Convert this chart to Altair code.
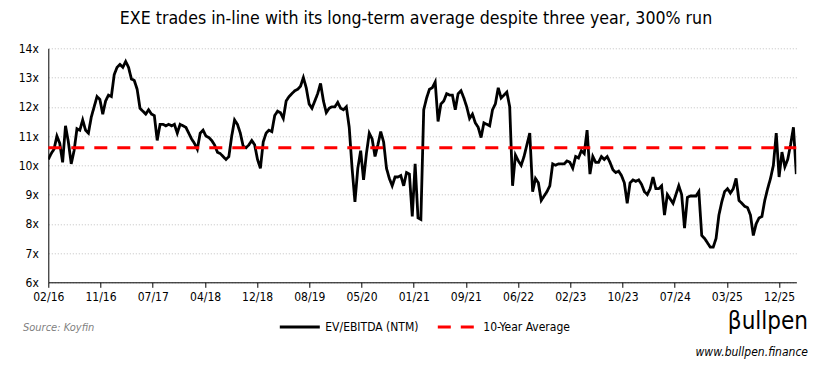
import altair as alt
import pandas as pd

# EV/EBITDA (NTM), one value every 14 days from 2016-02-25
values = [
    10.2, 10.4, 10.55, 11.0, 10.75, 10.1, 11.35, 10.8, 10.05, 10.5,
    11.25, 11.2, 11.55, 11.2, 11.1, 11.65, 12.0, 12.35, 12.25, 11.75,
    12.2, 12.4, 12.35, 13.1, 13.35, 13.45, 13.35, 13.55, 13.35, 12.95,
    12.9, 12.6, 11.95, 11.85, 11.75, 11.9, 11.75, 11.7, 10.85, 11.4,
    11.4, 11.35, 11.4, 11.35, 11.4, 11.1, 11.4, 11.35, 11.3, 11.1,
    10.9, 10.75, 10.55, 11.1, 11.2, 11.0, 10.95, 10.85, 10.7, 10.45,
    10.4, 10.3, 10.2, 10.3, 11.0, 11.55, 11.4, 11.1, 10.65, 10.6,
    10.7, 10.85, 10.7, 10.2, 9.9, 10.8, 11.1, 11.2, 11.15, 11.7,
    11.85, 11.8, 11.6, 12.2, 12.35, 12.45, 12.55, 12.6, 12.7, 13.0,
    12.65, 12.1, 11.95, 12.2, 12.45, 12.8, 12.2, 11.8, 11.95, 12.0,
    12.0, 12.15, 11.95, 11.9, 12.0, 11.3, 9.9, 8.75, 9.9, 10.5,
    9.5, 10.4, 11.1, 10.9, 10.3, 10.7, 11.15, 10.8, 9.9, 9.55,
    9.3, 9.6, 9.6, 9.65, 9.3, 9.75, 9.7, 8.25, 10.05, 8.2,
    8.15, 11.9, 12.3, 12.6, 12.65, 12.85, 11.5, 12.1, 12.2, 12.45,
    12.4, 12.4, 11.9, 12.45, 12.55, 12.3, 12.0, 11.6, 11.75, 11.45,
    11.3, 10.95, 11.45, 11.4, 11.35, 11.9, 12.1, 12.65, 12.3, 12.4,
    12.5, 12.0, 9.3, 10.35, 10.15, 10.0, 10.3, 10.7, 11.1, 9.1,
    9.55, 9.4, 8.8, 8.95, 9.1, 9.3, 10.05, 10.0, 10.05, 10.05,
    10.05, 10.15, 10.1, 9.9, 10.3, 10.25, 10.5, 10.4, 11.2, 9.7,
    10.3, 10.1, 10.1, 10.3, 10.2, 10.3, 10.1, 9.85, 9.75, 9.8,
    9.65, 9.4, 8.7, 9.4, 9.5, 9.45, 9.5, 9.35, 9.1, 9.0,
    9.2, 9.6, 9.2, 9.2, 9.3, 8.3, 9.0, 8.85, 8.7, 9.0,
    9.3, 9.0, 7.85, 8.9, 8.95, 8.95, 8.95, 9.1, 7.6, 7.5,
    7.35, 7.2, 7.2, 7.5, 8.3, 8.75, 9.1, 9.2, 9.05, 9.2,
    9.55, 8.8, 8.7, 8.6, 8.55, 8.3, 7.6, 8.0, 8.2, 8.25,
    8.8, 9.2, 9.55, 10.0, 11.1, 9.6, 10.45, 9.95, 10.2, 10.7,
    11.3, 9.7,
]
start_date = "2016-02-25"
avg_value = 10.6
series_names = ["EV/EBITDA (NTM)", "10-Year Average"]
tick_dates = [
    (2016, 2, 25), (2016, 11, 6), (2017, 7, 19), (2018, 4, 1), (2018, 12, 11),
    (2019, 8, 23), (2020, 5, 4), (2021, 1, 14), (2021, 9, 26), (2022, 6, 8),
    (2023, 2, 18), (2023, 10, 31), (2024, 7, 12), (2025, 3, 24), (2025, 12, 4),
]
y_ticks = [6, 7, 8, 9, 10, 11, 12, 13, 14]
title_text = "EXE trades in-line with its long-term average despite three year, 300% run"
source_text = "Source: Koyfin"
logo_text = "\u03b2ullpen"
url_text = "www.bullpen.finance"

FONT = "Liberation Sans Narrow, DejaVu Sans Condensed, sans-serif"

dates = pd.date_range(start_date, periods=len(values), freq="14D")
df_ev = pd.DataFrame({"date": dates, "value": values, "series": series_names[0]})
df_avg = pd.DataFrame({"date": [dates[0], dates[-1]], "value": [avg_value, avg_value],
                       "series": series_names[1]})

x_enc = alt.X("date:T", title=None,
              scale=alt.Scale(domain=[dates[0].isoformat(), dates[-1].isoformat()], nice=False),
              axis=alt.Axis(values=[alt.DateTime(year=y, month=m, date=d) for y, m, d in tick_dates],
                            format="%m/%y", grid=False, domainColor="#000000", domainWidth=1,
                            tickColor="#000000", tickSize=5, labelFont=FONT, labelFontSize=12,
                            labelColor="#000000", labelPadding=4, labelFlush=False))
y_enc = alt.Y("value:Q", title=None,
              scale=alt.Scale(domain=[6, 14], nice=False, zero=False),
              axis=alt.Axis(values=y_ticks, labelExpr="datum.value + 'x'", grid=True,
                            gridDash=[1, 2], gridColor="#c0c0c0", domainColor="#000000",
                            ticks=False, labelPadding=10, labelFont=FONT, labelFontSize=12,
                            labelColor="#000000"))
legend = alt.Legend(title=None, orient="none", legendX=230, legendY=257, direction="horizontal",
                    columns=2, symbolType="stroke", symbolSize=1600, symbolStrokeWidth=3,
                    labelFont=FONT, labelFontSize=12, labelColor="#000000", labelOffset=4,
                    columnPadding=12)
color_enc = alt.Color("series:N", scale=alt.Scale(domain=series_names, range=["#000000", "#ff0000"]),
                      legend=legend)
dash_enc = alt.StrokeDash("series:N", scale=alt.Scale(domain=series_names, range=[[1, 0], [13, 10]]),
                          legend=legend)

ev_line = alt.Chart(df_ev).mark_line(strokeWidth=2.8, clip=True).encode(
    x=x_enc, y=y_enc, color=color_enc, strokeDash=dash_enc)
avg_line = alt.Chart(df_avg).mark_line(strokeWidth=3).encode(
    x=x_enc, y=y_enc, color=color_enc, strokeDash=dash_enc)

def label(text, x, y, **kw):
    return alt.Chart(pd.DataFrame({"t": [text]})).mark_text(font=FONT, **kw).encode(
        text="t:N", x=alt.value(x), y=alt.value(y))

title = label(title_text, 367.7, -29.5, fontSize=17.6, color="#000000", align="center", baseline="middle")
source = label(source_text, -25.3, 280, fontSize=11, fontStyle="italic", color="#7f7f7f",
               align="left", baseline="middle")
logo = label(logo_text, 759.7, 274, fontSize=24, color="#000000", align="right", baseline="middle")
url = label(url_text, 759.7, 304, fontSize=12, fontStyle="italic", color="#000000",
            align="right", baseline="middle")

chart = alt.layer(ev_line, avg_line, title, source, logo, url).properties(
    width=748, height=234, autosize="none",
    padding={"left": 40.3, "top": 40.3, "right": 15.7, "bottom": 76.7},
).configure_view(stroke=None)

chart.save("out.html", embed_options={"renderer": "svg", "actions": False})
